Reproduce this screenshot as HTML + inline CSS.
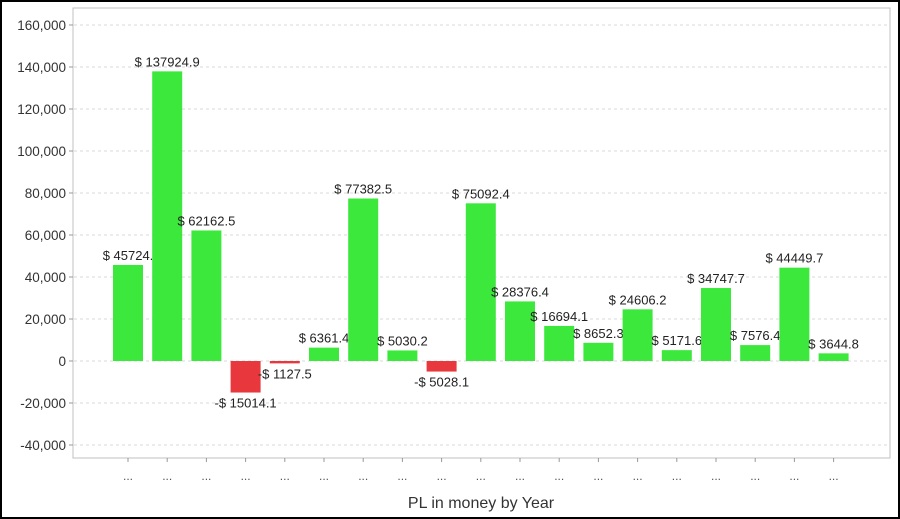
<!DOCTYPE html>
<html><head><meta charset="utf-8"><style>
html,body{margin:0;padding:0;background:#fff;}
svg{display:block;font-family:"Liberation Sans",Arial,sans-serif;}
</style></head><body>
<svg id="chart" width="900" height="519" xmlns="http://www.w3.org/2000/svg">
<rect x="1" y="1" width="898" height="517" fill="#fff" stroke="#000" stroke-width="2"/>
<rect x="73" y="8" width="817" height="450" fill="#fff" stroke="#c0c0c0" stroke-width="1"/>
<g id="grid"></g><g id="yaxis"></g><g id="bars"></g><g id="xaxis"></g>
<text x="481" y="508" text-anchor="middle" font-size="16" fill="#333">PL in money by Year</text>
</svg>
<script>
const categories = ["...","...","...","...","...","...","...","...","...","...","...","...","...","...","...","...","...","...","..."];
const values = [45724.7,137924.9,62162.5,-15014.1,-1127.5,6361.4,77382.5,5030.2,-5028.1,75092.4,28376.4,16694.1,8652.3,24606.2,5171.6,34747.7,7576.4,44449.7,3644.8];
const labels = ["$ 45724.","$ 137924.9","$ 62162.5","-$ 15014.1","-$ 1127.5","$ 6361.4","$ 77382.5","$ 5030.2","-$ 5028.1","$ 75092.4","$ 28376.4","$ 16694.1","$ 8652.3","$ 24606.2","$ 5171.6","$ 34747.7","$ 7576.4","$ 44449.7","$ 3644.8"];
const yTicks = [-40000,-20000,0,20000,40000,60000,80000,100000,120000,140000,160000];
const tickLabels = ["-40,000","-20,000","0","20,000","40,000","60,000","80,000","100,000","120,000","140,000","160,000"];
const NS="http://www.w3.org/2000/svg";
const y = v => 361 - v*(42/20000);
const x = i => 128 + i*39.2;
function mk(tag, attrs, parent){const e=document.createElementNS(NS,tag);for(const k in attrs)e.setAttribute(k,attrs[k]);parent.appendChild(e);return e;}
const grid=document.getElementById('grid'), ya=document.getElementById('yaxis'), bars=document.getElementById('bars'), xa=document.getElementById('xaxis');
yTicks.forEach((t,i)=>{
  const l=mk('line',{x1:74,x2:889,y1:y(t),y2:y(t),stroke:'#d8d8d8','stroke-dasharray':'3,3'},grid);
  
  
  const tk=mk('line',{x1:69,x2:73,y1:y(t),y2:y(t),stroke:'#999'},ya);
  
  
  const tx=mk('text',{x:66,y:y(t)+5,'text-anchor':'end','font-size':'13.5',fill:'#333'},ya);
  tx.textContent=tickLabels[i];
  
  
});
values.forEach((v,i)=>{
  const top=Math.min(y(v),y(0)), h=Math.abs(y(v)-y(0));
  const r=mk('rect',{x:x(i)-15,y:top,width:30,height:Math.max(h,1),fill:v<0?'#e8383d':'#3de83d'},bars);
  
  
  const ty = v<0 ? y(v)+15 : y(v)-5;
  const t=mk('text',{x:x(i),y:ty,'text-anchor':'middle','font-size':'13',fill:'#222'},bars);
  t.textContent=labels[i];
  
  
  const tk=mk('line',{x1:x(i),x2:x(i),y1:458,y2:462,stroke:'#999'},xa);
  
  
  const c=mk('text',{x:x(i),y:480,'text-anchor':'middle','font-size':'12',fill:'#555'},xa);
  c.textContent=categories[i];
  
  
});
</script>
</body></html>
